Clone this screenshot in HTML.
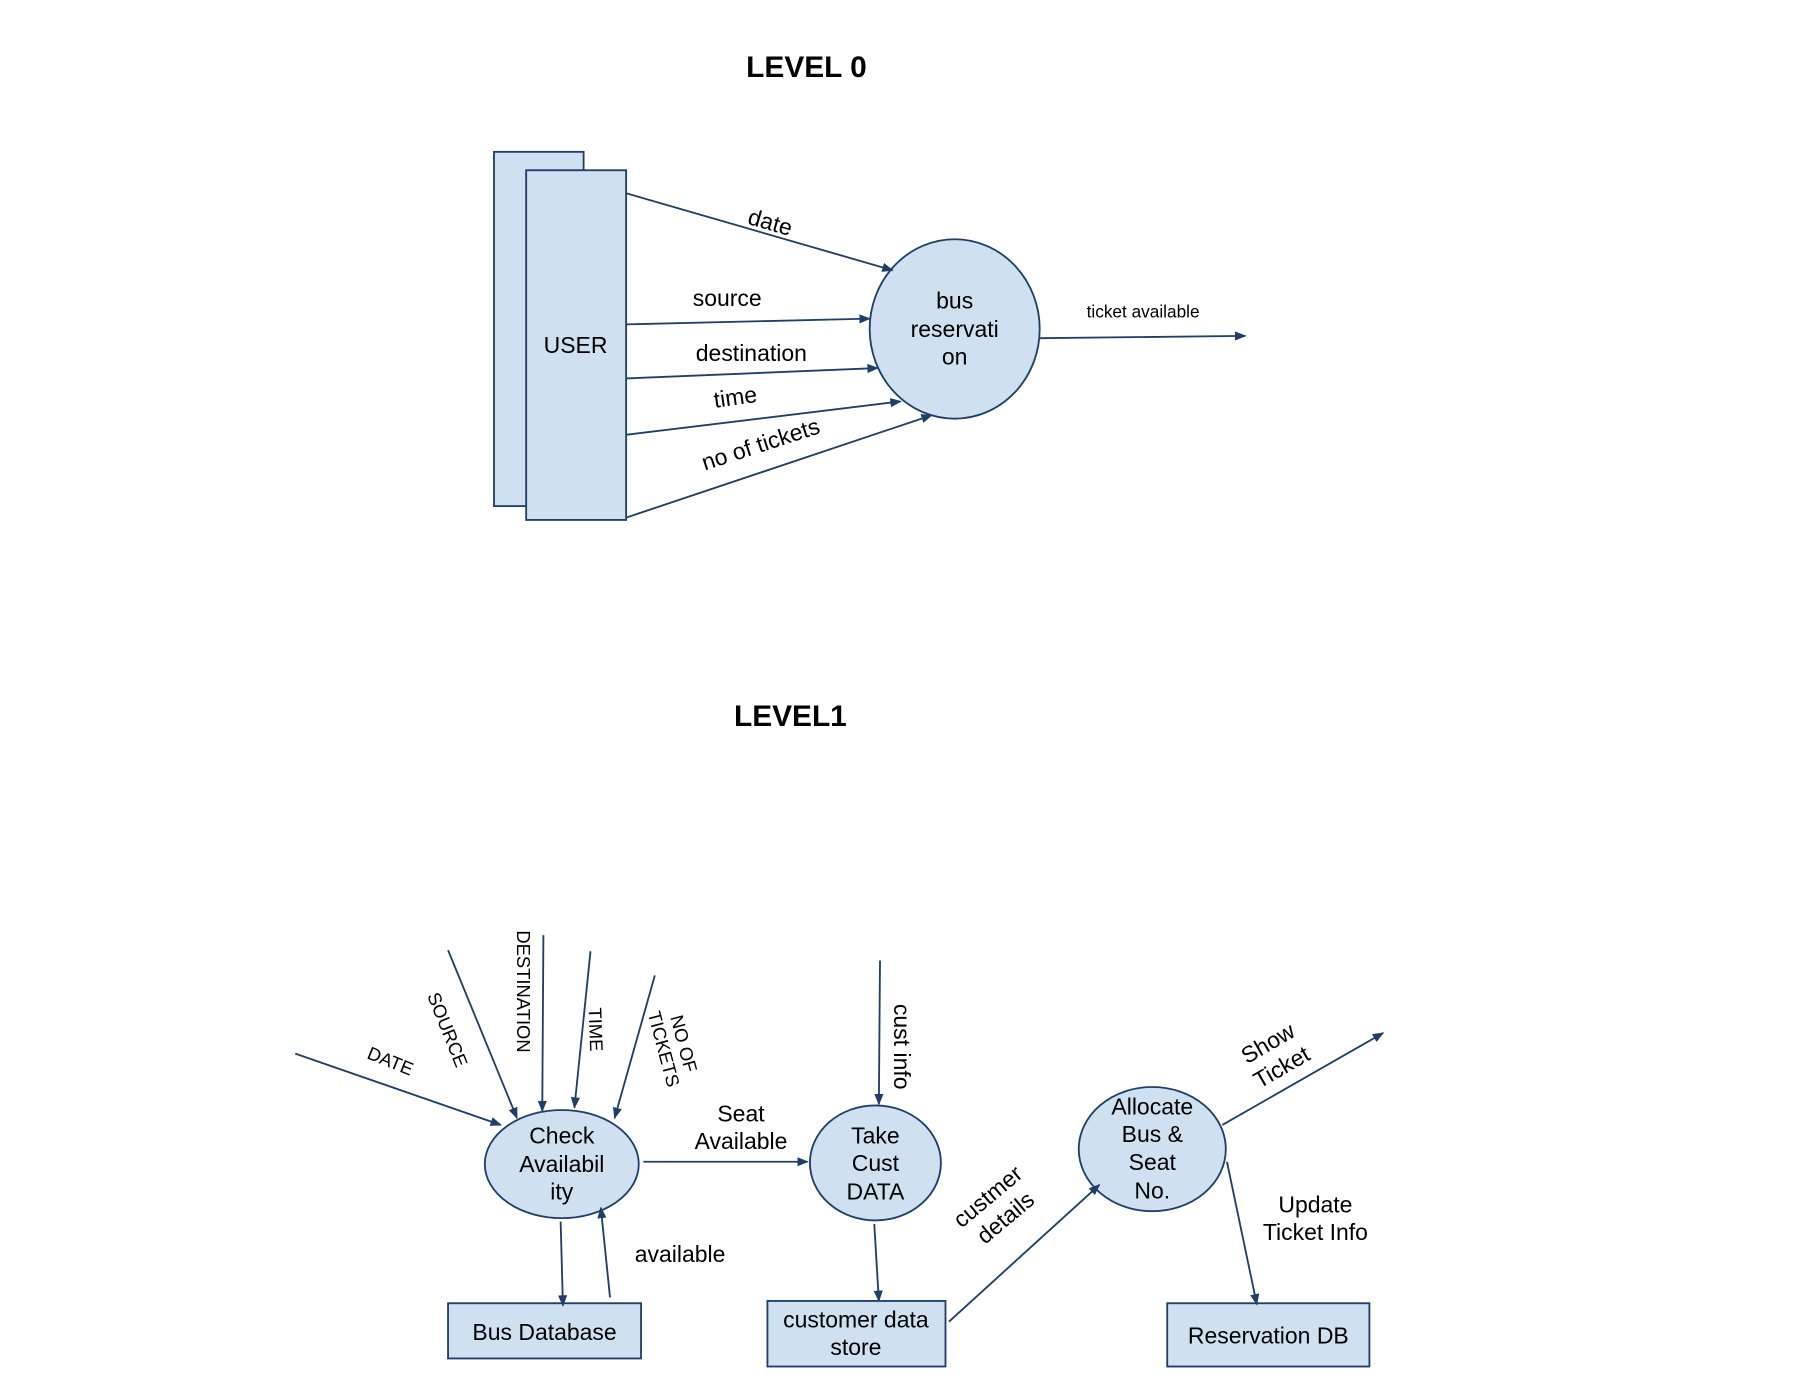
<!DOCTYPE html>
<html><head><meta charset="utf-8"><style>
html,body{margin:0;padding:0;background:#fff;}
svg{display:block;}
text{font-family:"Liberation Sans",Arial,sans-serif;fill:#000;}
</style></head><body>
<svg width="1803" height="1378" viewBox="0 0 1560 1192" preserveAspectRatio="none" xmlns="http://www.w3.org/2000/svg">
<defs>
<marker id="a" markerWidth="10" markerHeight="8" refX="9" refY="4" orient="auto" markerUnits="userSpaceOnUse">
<path d="M0,0 L10,4 L0,8 Z" fill="#1f3f6a"/></marker>
</defs>
<g transform="scale(0.994,0.995)">
<g stroke="#1f3f6a" stroke-width="1.6" fill="#cfe0f1">
<rect x="430" y="132" width="78" height="308"/>
<rect x="458" y="148" width="87" height="304"/>
<ellipse cx="831" cy="286" rx="74" ry="78"/>
<ellipse cx="489" cy="1012" rx="67" ry="47"/>
<ellipse cx="762" cy="1011" rx="57" ry="50"/>
<ellipse cx="1003" cy="999" rx="64" ry="54"/>
<rect x="390" y="1133" width="168" height="48"/>
<rect x="668" y="1131" width="155" height="57"/>
<rect x="1016" y="1133" width="176" height="55"/>
</g>
<g stroke="#1f3f6a" stroke-width="1.6" fill="none" marker-end="url(#a)">
<line x1="545" y1="168" x2="777" y2="235"/>
<line x1="545" y1="282" x2="757" y2="277"/>
<line x1="545" y1="329" x2="764" y2="320"/>
<line x1="545" y1="378" x2="784" y2="349"/>
<line x1="545" y1="450" x2="811" y2="361"/>
<line x1="905" y1="294" x2="1084" y2="292"/>
<line x1="257" y1="916" x2="436" y2="978"/>
<line x1="390" y1="826" x2="450" y2="972"/>
<line x1="473" y1="813" x2="472" y2="966"/>
<line x1="514" y1="827" x2="500" y2="963"/>
<line x1="570" y1="848" x2="535" y2="972"/>
<line x1="560" y1="1010" x2="703" y2="1010"/>
<line x1="766" y1="835" x2="765" y2="960"/>
<line x1="488" y1="1062" x2="490" y2="1135"/>
<line x1="531" y1="1128" x2="523" y2="1050"/>
<line x1="761" y1="1064" x2="765" y2="1131"/>
<line x1="826" y1="1149" x2="957" y2="1030"/>
<line x1="1064" y1="978" x2="1204" y2="898"/>
<line x1="1068" y1="1010" x2="1094" y2="1134"/>
</g>
<g font-size="20" text-anchor="middle">
<text x="702" y="67" font-size="26" font-weight="bold">LEVEL 0</text>
<text x="688" y="631" font-size="26" font-weight="bold">LEVEL1</text>
<text x="501" y="307">USER</text>
<text x="831" y="268">bus</text>
<text x="831" y="293">reservati</text>
<text x="831" y="317">on</text>
<text x="670" y="200" transform="rotate(16 670 195)">date</text>
<text x="633" y="266">source</text>
<text x="654" y="314">destination</text>
<text x="640" y="352" transform="rotate(-8 640 345)">time</text>
<text x="662" y="393" transform="rotate(-18 662 386)">no of  tickets</text>
<text x="995" y="276" font-size="15">ticket available</text>
<text x="489" y="994">Check</text>
<text x="489" y="1019">Availabil</text>
<text x="489" y="1043">ity</text>
<text x="762" y="994">Take</text>
<text x="762" y="1018">Cust</text>
<text x="762" y="1043">DATA</text>
<text x="1003" y="969">Allocate</text>
<text x="1003" y="993">Bus &amp;</text>
<text x="1003" y="1017">Seat</text>
<text x="1003" y="1042">No.</text>
<text x="474" y="1165">Bus Database</text>
<text x="745" y="1154">customer data</text>
<text x="745" y="1178">store</text>
<text x="1104" y="1168">Reservation DB</text>
<text x="645" y="975">Seat</text>
<text x="645" y="999">Available</text>
<text x="592" y="1097">available</text>
<text x="1145" y="1054">Update</text>
<text x="1145" y="1078">Ticket Info</text>
<g font-size="16">
<text x="340" y="928" transform="rotate(22 340 922)">DATE</text>
<text x="390" y="901" transform="rotate(68 390 895)">SOURCE</text>
<text x="456" y="868" transform="rotate(90 456 862)">DESTINATION</text>
<text x="518" y="900" transform="rotate(88 518 895)">TIME</text>
<text x="585" y="905" transform="rotate(75 585 910)">NO OF</text>
<text x="585" y="923" transform="rotate(75 585 910)">TICKETS</text>
</g>
<text x="785" y="917" transform="rotate(90 785 910)">cust info</text>
<g transform="rotate(-40 868 1050)">
<text x="868" y="1044">custmer</text>
<text x="868" y="1068">details</text>
</g>
<g transform="rotate(-30 1110 918)">
<text x="1110" y="912">Show</text>
<text x="1110" y="936">Ticket</text>
</g>
</g>
</g>
</svg>
</body></html>
